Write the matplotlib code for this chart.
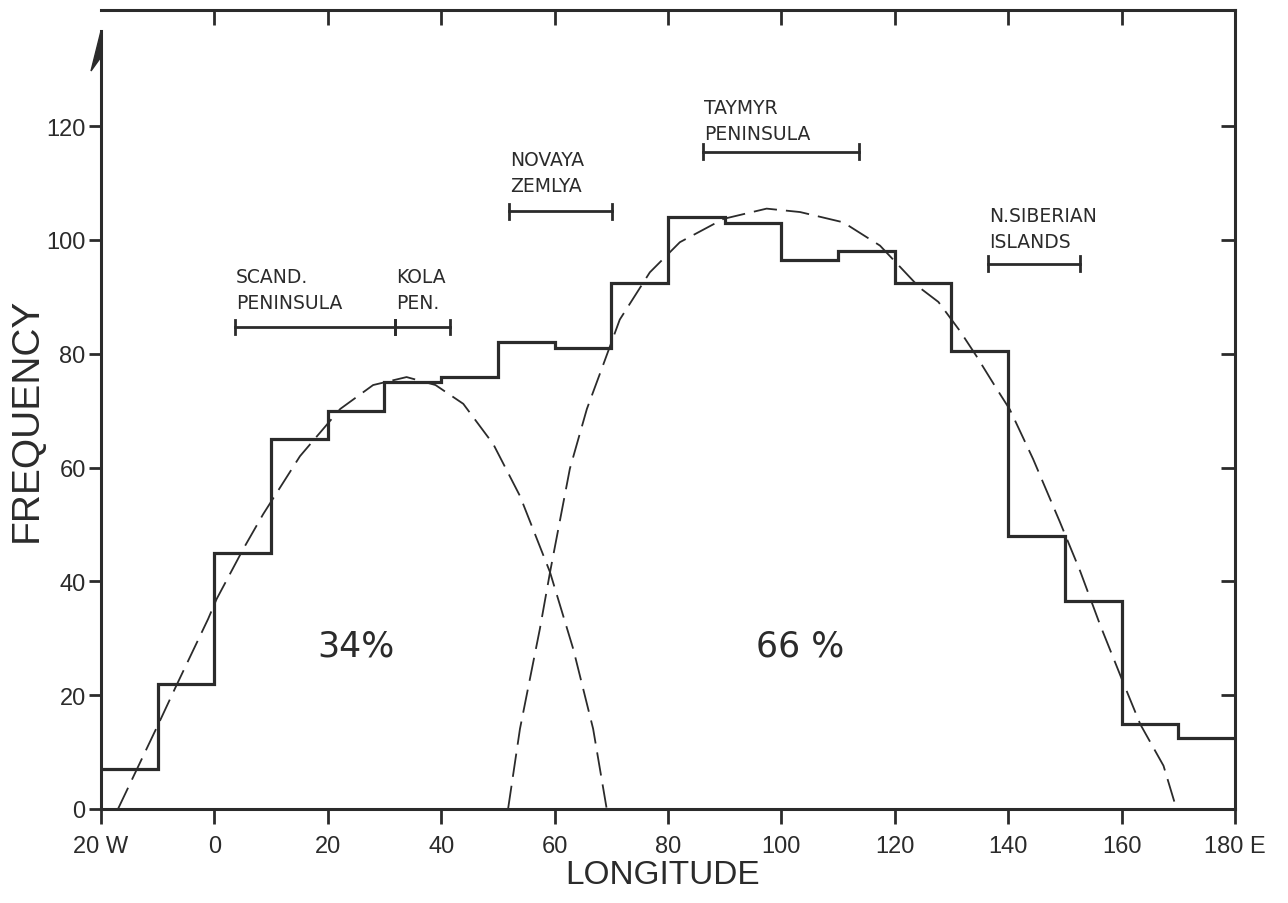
"""Longitude frequency histogram with two fitted (dashed) components."""
import matplotlib
matplotlib.use("Agg")
import matplotlib.pyplot as plt
from matplotlib.patches import Polygon

AXIS_FONT = ["Liberation Sans", "DejaVu Sans"]
plt.rcParams["font.family"] = ["DejaVu Sans"]

# histogram: 10-degree bins from 20 W to 180 E
bin_edges = [-20, -10, 0, 10, 20, 30, 40, 50, 60, 70, 80, 90,
             100, 110, 120, 130, 140, 150, 160, 170, 180]
frequency = [7, 22, 45, 65, 70, 75, 76, 82, 81, 92.5, 104, 103,
             96.5, 98, 92.5, 80.5, 48, 36.5, 15, 12.5]

# fitted components
west_lon = [-17, -12.8, -9.6, -6.7, -1.1, 0.4, 5.1, 8.6, 15.1, 22.2, 28,
            33.9, 39, 43.9, 49.2, 53.9, 59.2, 63.3, 66.8, 69.2]
west_fit = [0, 8.8, 15.5, 21.7, 33.4, 36.9, 45.7, 51.8, 62, 70.3, 74.5,
            75.9, 74.5, 71.2, 64.1, 55, 41.6, 28.1, 14.1, 0]
east_lon = [51.8, 53.9, 57.4, 59.2, 62.7, 65.7, 68.3, 71.5, 76.8, 82.1,
            89.8, 97.4, 103.3, 110.9, 117.4, 124.4, 127.7, 131.5, 134.4,
            138, 140.3, 144.4, 149.1, 152.7, 156.2, 160.3, 163.3, 167.4, 169.7]
east_fit = [0, 14.1, 31.6, 41.6, 59.8, 70.3, 77.3, 86, 94.3, 99.6,
            103.7, 105.5, 104.9, 103.1, 99, 91.6, 89.1, 84, 79.6,
            73.8, 70.2, 61.5, 50.5, 41.8, 32.4, 22.2, 14.9, 7.6, 0]

x_ticks = [-20, 0, 20, 40, 60, 80, 100, 120, 140, 160, 180]
x_ticklabels = ["20 W", "0", "20", "40", "60", "80", "100", "120",
                "140", "160", "180 E"]
y_ticks = [0, 20, 40, 60, 80, 100, 120]

# geographic ranges: (label, start, end, bar height, text height)
regions = [
    ("SCAND.\nPENINSULA", 3.6, 31.9, 84.7, 87.4),
    ("KOLA\nPEN.", 31.9, 41.6, 84.7, 87.4),
    ("NOVAYA\nZEMLYA", 52.0, 70.2, 105.0, 107.9),
    ("TAYMYR\nPENINSULA", 86.1, 113.7, 115.5, 117.0),
    ("N.SIBERIAN\nISLANDS", 136.4, 152.7, 95.8, 98.1),
]
shares = [("34%", 25.0, 28.8), ("66 %", 103.3, 28.8)]

INK = "#2b2b2b"

fig = plt.figure(figsize=(12.88, 9.04), dpi=100)
ax = fig.add_axes([0.0784, 0.1040, 0.8804, 0.8838])

ax.stairs(frequency, bin_edges, baseline=None, color=INK, linewidth=2.3)
ax.plot(west_lon, west_fit, color=INK, linewidth=1.3, dashes=(13, 5))
ax.plot(east_lon, east_fit, color=INK, linewidth=1.3, dashes=(13, 5))

for label, x0, x1, yb, yt in regions:
    ax.plot([x0, x1], [yb, yb], color=INK, linewidth=2.0)
    for xe in (x0, x1):
        ax.plot([xe, xe], [yb - 1.3, yb + 1.3], color=INK, linewidth=2.0)
    ax.text(x0 + 0.2, yt, label, fontsize=13.5, color=INK, ha="left",
            va="bottom", linespacing=1.45)

for txt, x, y in shares:
    ax.text(x, y, txt, fontsize=25, color=INK, ha="center", va="center")

ax.set_xlim(-20, 180)
ax.set_ylim(0, 140.4)
ax.set_xticks(x_ticks)
ax.set_xticklabels(x_ticklabels, family=AXIS_FONT, fontsize=17, color=INK)
ax.set_yticks(y_ticks)
ax.set_yticklabels([str(v) for v in y_ticks], family=AXIS_FONT, fontsize=17,
                   color=INK)
ax.tick_params(axis="x", direction="out", length=11, width=2.0, pad=8,
               colors=INK)
ax.tick_params(axis="y", direction="out", length=9, width=2.0, pad=2,
               colors=INK)

for side in ("top", "right", "bottom", "left"):
    ax.spines[side].set_linewidth(2.2)
    ax.spines[side].set_color(INK)
ax.spines["left"].set_bounds(0, 136.7)

# inward ticks on the top and right frame
top = ax.secondary_xaxis("top")
top.set_xticks(x_ticks[1:-1])
top.tick_params(direction="in", length=11, width=2.0, labeltop=False,
                colors=INK)
top.spines["top"].set_visible(False)
right = ax.secondary_yaxis("right")
right.set_yticks(y_ticks[1:])
right.tick_params(direction="in", length=10, width=2.0, labelright=False,
                  colors=INK)
right.spines["right"].set_visible(False)

# half arrow head on the frequency axis
ax.add_patch(Polygon([(0, 0.9737), (-0.0088, 0.9237), (0, 0.9412)],
                     closed=True, transform=ax.transAxes, clip_on=False,
                     facecolor=INK, edgecolor=INK, linewidth=1))

ax.set_xlabel("LONGITUDE", family=AXIS_FONT, fontsize=24, color=INK)
ax.xaxis.set_label_coords(0.4956, -0.062)
ax.set_ylabel("FREQUENCY", family=AXIS_FONT, fontsize=28, color=INK)
ax.yaxis.set_label_coords(-0.05, 0.488)

fig.savefig("out.png", dpi=100, facecolor="white")
